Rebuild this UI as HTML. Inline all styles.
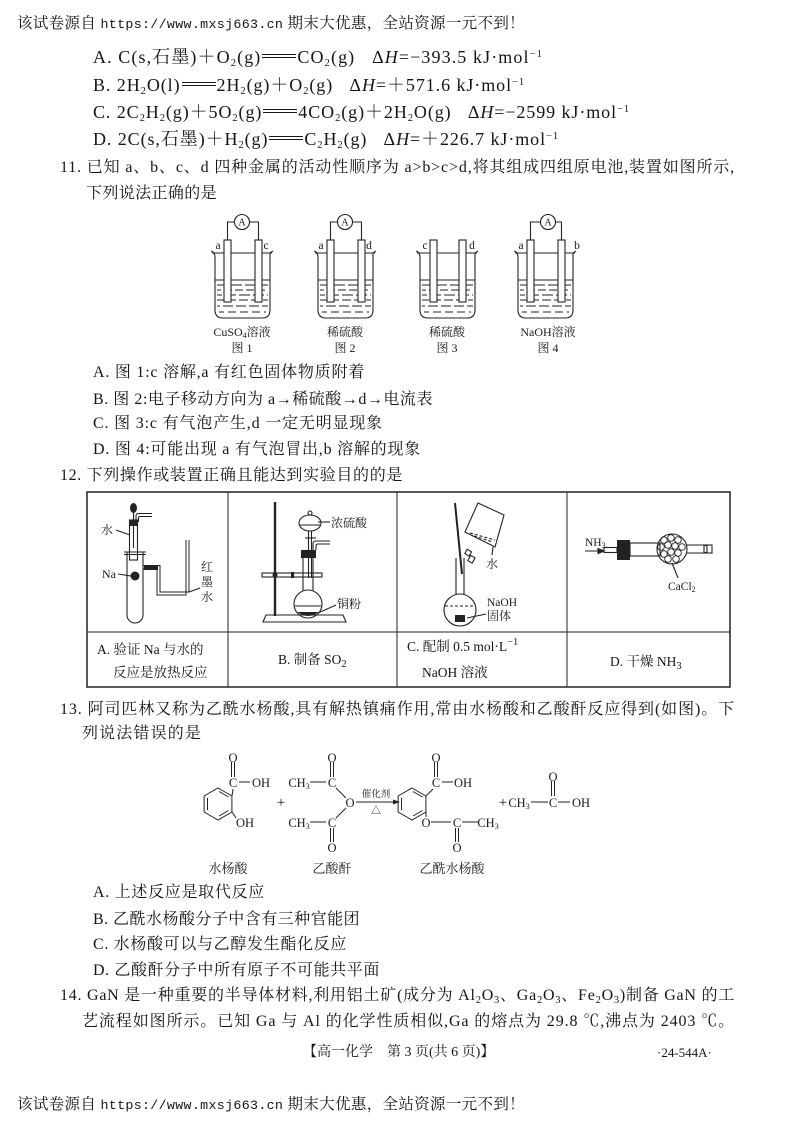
<!DOCTYPE html>
<html><head><meta charset="utf-8">
<style>
body{margin:0;background:#fff;}
#p{position:relative;width:794px;height:1123px;overflow:hidden;background:#fff;color:#151515;font-family:"Liberation Serif","Noto Serif CJK SC",serif;}
.t{position:absolute;white-space:nowrap;font-size:16px;line-height:16px;letter-spacing:0.8px;}
.fm{font-size:18px;letter-spacing:1px;}
.h{position:absolute;white-space:nowrap;font-size:15.5px;line-height:18px;font-family:"Noto Serif CJK SC",serif;}
.m{font-family:"Liberation Mono",monospace;font-size:13.3px;}
.c{position:absolute;white-space:nowrap;font-size:13.5px;line-height:14px;}
sub{font-size:10.5px;vertical-align:-3px;line-height:0}
sup{font-size:10.5px;vertical-align:6px;line-height:0}
.eq{display:inline-block;width:34px;height:2px;border-top:1px solid #1a1a1a;border-bottom:1px solid #1a1a1a;vertical-align:5px;margin:0 1px}
svg{position:absolute;left:0;top:0}
svg text{font-family:"Liberation Serif","Noto Serif CJK SC",serif;fill:#1a1a1a}
</style></head><body><div id="p">

<div class="h fit" style="left:17px;top:13px;--w:508px">该试卷源自 <span class="m">https://www.mxsj663.cn</span> 期末大优惠，全站资源一元不到！</div>

<div class="t fm fit" style="left:93px;top:49px;--w:450px">A. C(s,石墨)＋O<sub>2</sub>(g)<span class="eq"></span>CO<sub>2</sub>(g)&nbsp;&nbsp;&nbsp;Δ<i>H</i>=−393.5 kJ·mol<sup>−1</sup></div>
<div class="t fm fit" style="left:93px;top:77px;--w:432px">B. 2H<sub>2</sub>O(l)<span class="eq"></span>2H<sub>2</sub>(g)＋O<sub>2</sub>(g)&nbsp;&nbsp;&nbsp;Δ<i>H</i>=＋571.6 kJ·mol<sup>−1</sup></div>
<div class="t fm fit" style="left:93px;top:104px;--w:537px">C. 2C<sub>2</sub>H<sub>2</sub>(g)＋5O<sub>2</sub>(g)<span class="eq"></span>4CO<sub>2</sub>(g)＋2H<sub>2</sub>O(g)&nbsp;&nbsp;&nbsp;Δ<i>H</i>=−2599 kJ·mol<sup>−1</sup></div>
<div class="t fm fit" style="left:93px;top:131px;--w:466px">D. 2C(s,石墨)＋H<sub>2</sub>(g)<span class="eq"></span>C<sub>2</sub>H<sub>2</sub>(g)&nbsp;&nbsp;&nbsp;Δ<i>H</i>=＋226.7 kJ·mol<sup>−1</sup></div>

<div class="t fit" style="left:60px;top:160px;--w:675px">11. 已知 a、b、c、d 四种金属的活动性顺序为 a&gt;b&gt;c&gt;d,将其组成四组原电池,装置如图所示,</div>
<div class="t fit" style="left:86px;top:186px;--w:131px">下列说法正确的是</div>

<div class="t fit" style="left:93px;top:365px;--w:272px">A. 图 1:c 溶解,a 有红色固体物质附着</div>
<div class="t fit" style="left:93px;top:392px;--w:340px">B. 图 2:电子移动方向为 a→稀硫酸→d→电流表</div>
<div class="t fit" style="left:93px;top:416px;--w:290px">C. 图 3:c 有气泡产生,d 一定无明显现象</div>
<div class="t fit" style="left:93px;top:442px;--w:328px">D. 图 4:可能出现 a 有气泡冒出,b 溶解的现象</div>

<div class="t fit" style="left:60px;top:468px;--w:343px">12. 下列操作或装置正确且能达到实验目的的是</div>

<div class="c" style="left:97px;top:643px">A. 验证 Na 与水的</div>
<div class="c" style="left:113px;top:666px">反应是放热反应</div>
<div class="c" style="left:278px;top:653px">B. 制备 SO<sub>2</sub></div>
<div class="c" style="left:407px;top:640px">C. 配制 0.5 mol·L<sup>−1</sup></div>
<div class="c" style="left:422px;top:666px">NaOH 溶液</div>
<div class="c" style="left:610px;top:655px">D. 干燥 NH<sub>3</sub></div>

<div class="t fit" style="left:60px;top:702px;--w:675px">13. 阿司匹林又称为乙酰水杨酸,具有解热镇痛作用,常由水杨酸和乙酸酐反应得到(如图)。下</div>
<div class="t fit" style="left:82px;top:726px;--w:120px">列说法错误的是</div>

<div class="t fit" style="left:93px;top:885px;--w:172px">A. 上述反应是取代反应</div>
<div class="t fit" style="left:93px;top:912px;--w:267px">B. 乙酰水杨酸分子中含有三种官能团</div>
<div class="t fit" style="left:93px;top:937px;--w:254px">C. 水杨酸可以与乙醇发生酯化反应</div>
<div class="t fit" style="left:93px;top:963px;--w:287px">D. 乙酸酐分子中所有原子不可能共平面</div>

<div class="t fit" style="left:60px;top:988px;--w:675px">14. GaN 是一种重要的半导体材料,利用铝土矿(成分为 Al<sub>2</sub>O<sub>3</sub>、Ga<sub>2</sub>O<sub>3</sub>、Fe<sub>2</sub>O<sub>3</sub>)制备 GaN 的工</div>
<div class="t fit" style="left:82px;top:1014px;--w:653px">艺流程如图所示。已知 Ga 与 Al 的化学性质相似,Ga 的熔点为 29.8 ℃,沸点为 2403 ℃。</div>

<div class="c" style="left:303px;top:1046px;font-size:14px">【高一化学　第 3 页(共 6 页)】</div>
<div class="c" style="left:657px;top:1046px;font-size:13px">·24-544A·</div>

<div class="h fit" style="left:17px;top:1094px;--w:508px">该试卷源自 <span class="m">https://www.mxsj663.cn</span> 期末大优惠，全站资源一元不到！</div>

<svg width="794" height="1123" viewBox="0 0 794 1123">
<defs>
<g id="bk" fill="none" stroke="#222" stroke-width="1.1">
 <path d="M211,251 Q215,252 215,258 V310 Q215,318 223,318 H262 Q270,318 270,310 V253 L273,251"/>
 <line x1="212" y1="253" x2="272" y2="253"/>
 <line x1="215" y1="280" x2="270" y2="280"/>
 <line x1="217" y1="285" x2="268" y2="285" stroke-dasharray="11 3"/>
 <line x1="217" y1="290" x2="268" y2="290" stroke-dasharray="8 3" stroke-dashoffset="4"/>
 <line x1="217" y1="295" x2="268" y2="295" stroke-dasharray="11 3" stroke-dashoffset="6"/>
 <line x1="217" y1="300" x2="268" y2="300" stroke-dasharray="9 3" stroke-dashoffset="2"/>
 <line x1="217" y1="306" x2="268" y2="306" stroke-dasharray="10 3" stroke-dashoffset="7"/>
 <line x1="219" y1="312" x2="266" y2="312" stroke-dasharray="8 4" stroke-dashoffset="3"/>
</g>
</defs>
<use href="#bk"/>
<use href="#bk" x="103"/>
<use href="#bk" x="205"/>
<use href="#bk" x="303"/>
<g fill="#fff" stroke="#222" stroke-width="1.1">
 <rect x="224" y="240" width="7" height="62"/><rect x="255" y="240" width="7" height="62"/>
 <rect x="327" y="240" width="7" height="62"/><rect x="358" y="240" width="7" height="62"/>
 <rect x="430" y="240" width="7" height="62"/><rect x="459" y="240" width="7" height="62"/>
 <rect x="527" y="240" width="7" height="62"/><rect x="558" y="240" width="7" height="62"/>
 <circle cx="242" cy="222" r="7.5"/><circle cx="345" cy="222" r="7.5"/><circle cx="548" cy="222" r="7.5"/>
</g>
<g fill="none" stroke="#222" stroke-width="1.1">
 <path d="M234.5,222 H227.5 V240 M249.5,222 H258.5 V240"/>
 <path d="M337.5,222 H330.5 V240 M352.5,222 H361.5 V240"/>
 <path d="M540.5,222 H530.5 V240 M555.5,222 H561.5 V240"/>
</g>
<g font-size="10" text-anchor="middle">
 <text x="242" y="225.5">A</text><text x="345" y="225.5">A</text><text x="548" y="225.5">A</text>
</g>
<g font-size="11.5" text-anchor="middle">
 <text x="218" y="249">a</text><text x="266" y="249">c</text>
 <text x="321" y="249">a</text><text x="369" y="249">d</text>
 <text x="425" y="249">c</text><text x="472" y="249">d</text>
 <text x="521" y="249">a</text><text x="577" y="249">b</text>
</g>
<g font-size="12" text-anchor="middle">
 <text x="242" y="336">CuSO<tspan font-size="8" dy="2">4</tspan><tspan dy="-2">溶液</tspan></text>
 <text x="242" y="352">图 1</text>
 <text x="345" y="336">稀硫酸</text>
 <text x="345" y="352">图 2</text>
 <text x="447" y="336">稀硫酸</text>
 <text x="447" y="352">图 3</text>
 <text x="548" y="336">NaOH溶液</text>
 <text x="548" y="352">图 4</text>
</g>

<g fill="none" stroke="#222">
 <rect x="87" y="492" width="643" height="195" stroke-width="1.5"/>
 <line x1="87" y1="632" x2="730" y2="632" stroke-width="1"/>
 <line x1="228" y1="492" x2="228" y2="687" stroke-width="1"/>
 <line x1="397" y1="492" x2="397" y2="687" stroke-width="1"/>
 <line x1="567" y1="492" x2="567" y2="687" stroke-width="1"/>
</g>

<g fill="none" stroke="#222" stroke-width="1.1">
 <path d="M127,552 V615 A8,8 0 0 0 143,615 V552"/>
 <line x1="124" y1="552" x2="146" y2="552"/>
 <line x1="124" y1="554.5" x2="146" y2="554.5"/>
 <rect x="129.5" y="520" width="8" height="40"/>
 <line x1="133.5" y1="512" x2="133.5" y2="548"/>
 <path d="M136,522 V516 Q136,513.5 139,513.5 H152 M138.5,522 V518 Q138.5,516.5 140,516.5 H152"/>
 <path d="M143,565.5 H160 V592 H189 V540 M143,569 H157 V595 H186 V540" stroke-width="1"/>
 <line x1="116" y1="530" x2="130" y2="535"/>
 <line x1="118" y1="574" x2="131" y2="576"/>
 <line x1="200" y1="588" x2="189" y2="592"/>
</g>
<g fill="#222">
 <ellipse cx="133.5" cy="508" rx="3.5" ry="5"/>
 <rect x="129" y="520" width="9" height="6"/>
 <rect x="144" y="565" width="14" height="5"/>
 <circle cx="135" cy="576" r="4.5"/>
</g>
<g font-size="12">
 <text x="101" y="534">水</text>
 <text x="102" y="578">Na</text>
 <text x="201" y="571">红</text>
 <text x="201" y="586">墨</text>
 <text x="201" y="601">水</text>
</g>

<g fill="none" stroke="#222" stroke-width="1.1">
 <line x1="275" y1="502" x2="275" y2="616" stroke-width="2.4"/>
 <path d="M263,622 L266,615 H343 L346,622 Z"/>
 <rect x="262" y="573" width="60" height="4"/>
 <circle cx="308" cy="604" r="14"/>
 <line x1="303" y1="558" x2="303" y2="591"/>
 <line x1="313" y1="558" x2="313" y2="591"/>
 <line x1="295" y1="606" x2="321" y2="606"/>
 <ellipse cx="310" cy="523" rx="11" ry="8"/>
 <line x1="300" y1="525" x2="320" y2="525"/>
 <circle cx="310" cy="513" r="2"/>
 <line x1="308.5" y1="531" x2="308.5" y2="578"/>
 <line x1="311.5" y1="531" x2="311.5" y2="578"/>
 <line x1="305" y1="538" x2="316" y2="538"/>
 <path d="M313,550 V544 Q313,541 316,541 H330 M316,550 V546 Q316,544 318,544 H330"/>
 <line x1="318" y1="522" x2="330" y2="522"/>
 <line x1="318" y1="613" x2="336" y2="605"/>
</g>
<g fill="#222">
 <rect x="301" y="550" width="15" height="8"/>
 <path d="M297,612 Q308,620 319,612 Z"/>
 <circle cx="275" cy="575" r="2.5"/>
 <rect x="291" y="572" width="3" height="6"/>
</g>
<g font-size="12">
 <text x="331" y="527">浓硫酸</text>
 <text x="337" y="608">铜粉</text>
</g>

<g fill="none" stroke="#222" stroke-width="1.1">
 <circle cx="460" cy="610" r="16"/>
 <line x1="456" y1="558" x2="456" y2="595"/>
 <line x1="464" y1="558" x2="464" y2="595"/>
 <line x1="455" y1="503" x2="462" y2="574" stroke-width="2"/>
 <line x1="445" y1="606" x2="475" y2="606" stroke-dasharray="3 2"/>
 <path d="M465,532 L478,503 L504,515 L495,547 Z"/>
 <path d="M470,533 L495,540 M474,536 L493,542" stroke-dasharray="3 2"/>
 <line x1="493" y1="547" x2="492" y2="555"/>
 <rect x="466" y="550" width="5" height="5" transform="rotate(30 468 552)"/>
 <rect x="469" y="556" width="5" height="6" transform="rotate(30 471 559)"/>
 <line x1="467" y1="618" x2="486" y2="614"/>
</g>
<rect x="455" y="615" width="10" height="7" fill="#222"/>
<g font-size="12">
 <text x="486" y="568">水</text>
 <text x="487" y="606" font-size="11.5">NaOH</text>
 <text x="487" y="620">固体</text>
</g>

<g fill="none" stroke="#222" stroke-width="1.1">
 <line x1="585" y1="551" x2="602" y2="551"/>
 <path d="M598,548.5 L604,551 L598,553.5 Z" fill="#222"/>
 <rect x="604" y="547.5" width="13" height="5"/>
 <rect x="630" y="543" width="30" height="13"/>
 <circle cx="672" cy="549" r="15"/>
 <path d="M686,545 H704 L707,546 V552 L704,553 H686"/>
 <rect x="704" y="545" width="8" height="8"/>
 <line x1="672" y1="563" x2="678" y2="578"/>
</g>
<rect x="617" y="540" width="13" height="20" fill="#222"/>
<g fill="none" stroke="#222" stroke-width="0.9">
 <circle cx="664" cy="540" r="3.3"/><circle cx="671" cy="538" r="3.3"/><circle cx="678" cy="540" r="3.3"/>
 <circle cx="661" cy="547" r="3.3"/><circle cx="668" cy="545" r="3.3"/><circle cx="675" cy="546" r="3.3"/><circle cx="682" cy="547" r="3.3"/>
 <circle cx="664" cy="554" r="3.3"/><circle cx="671" cy="552" r="3.3"/><circle cx="678" cy="553" r="3.3"/>
 <circle cx="668" cy="559" r="3.3"/><circle cx="676" cy="559" r="3.3"/>
</g>
<g font-size="11.5">
 <text x="585" y="546">NH<tspan font-size="8" dy="2">3</tspan></text>
 <text x="668" y="590">CaCl<tspan font-size="8" dy="2">2</tspan></text>
</g>

<g fill="none" stroke="#222" stroke-width="1">
 <polygon points="218,788 231.9,796 231.9,812 218,820 204.1,812 204.1,796"/>
 <line x1="219" y1="791.5" x2="228.5" y2="797"/>
 <line x1="228.5" y1="810.5" x2="219" y2="816"/>
 <line x1="207.5" y1="798" x2="207.5" y2="810"/>
 <line x1="232" y1="796" x2="233" y2="789"/>
 <line x1="231.5" y1="762" x2="231.5" y2="777"/>
 <line x1="234.5" y1="762" x2="234.5" y2="777"/>
 <line x1="239" y1="782" x2="250" y2="782"/>
 <line x1="232" y1="812" x2="236" y2="818"/>
 <line x1="330.5" y1="762" x2="330.5" y2="777"/>
 <line x1="333.5" y1="762" x2="333.5" y2="777"/>
 <line x1="310" y1="782" x2="326" y2="782"/>
 <line x1="336" y1="788" x2="346" y2="798"/>
 <line x1="346" y1="808" x2="336" y2="818"/>
 <line x1="310" y1="822" x2="326" y2="822"/>
 <line x1="330.5" y1="828" x2="330.5" y2="842"/>
 <line x1="333.5" y1="828" x2="333.5" y2="842"/>
 <line x1="356" y1="802" x2="395" y2="802"/>
 <polygon points="412,788 425.9,796 425.9,812 412,820 398.1,812 398.1,796"/>
 <line x1="413" y1="791.5" x2="422.5" y2="797"/>
 <line x1="422.5" y1="810.5" x2="413" y2="816"/>
 <line x1="401.5" y1="798" x2="401.5" y2="810"/>
 <line x1="426" y1="796" x2="433" y2="789"/>
 <line x1="434.5" y1="762" x2="434.5" y2="777"/>
 <line x1="437.5" y1="762" x2="437.5" y2="777"/>
 <line x1="442" y1="782" x2="453" y2="782"/>
 <line x1="426" y1="812" x2="426" y2="817"/>
 <line x1="431" y1="822" x2="451" y2="822"/>
 <line x1="462" y1="822" x2="478" y2="822"/>
 <line x1="455.5" y1="828" x2="455.5" y2="842"/>
 <line x1="458.5" y1="828" x2="458.5" y2="842"/>
 <line x1="531" y1="802" x2="548" y2="802"/>
 <line x1="558" y1="802" x2="570" y2="802"/>
 <line x1="551.5" y1="781" x2="551.5" y2="796"/>
 <line x1="554.5" y1="781" x2="554.5" y2="796"/>
</g>
<path d="M393,799.5 L400,802 L393,804.5 Z" fill="#222"/>
<g font-size="12.5" text-anchor="middle">
 <text x="233" y="762">O</text>
 <text x="233" y="787">C</text>
 <text x="261" y="787">OH</text>
 <text x="245" y="827">OH</text>
 <text x="281" y="807" font-size="15">+</text>
 <text x="332" y="762">O</text>
 <text x="299" y="787">CH<tspan font-size="8" dy="2">3</tspan></text>
 <text x="332" y="787">C</text>
 <text x="350" y="807">O</text>
 <text x="299" y="827">CH<tspan font-size="8" dy="2">3</tspan></text>
 <text x="332" y="827">C</text>
 <text x="332" y="852">O</text>
 <text x="376" y="797" font-size="9.5">催化剂</text>
 <text x="376" y="814" font-size="10">△</text>
 <text x="436" y="762">O</text>
 <text x="436" y="787">C</text>
 <text x="463" y="787">OH</text>
 <text x="426" y="827">O</text>
 <text x="457" y="827">C</text>
 <text x="488" y="827">CH<tspan font-size="8" dy="2">3</tspan></text>
 <text x="457" y="852">O</text>
 <text x="503" y="807" font-size="15">+</text>
 <text x="519" y="807">CH<tspan font-size="8" dy="2">3</tspan></text>
 <text x="553" y="807">C</text>
 <text x="581" y="807">OH</text>
 <text x="553" y="781">O</text>
</g>
<g font-size="13" text-anchor="middle">
 <text x="228" y="873">水杨酸</text>
 <text x="332" y="873">乙酸酐</text>
 <text x="452" y="873">乙酰水杨酸</text>
</g>
</svg>
</div>
<script>
(function(){
  var els=document.querySelectorAll('.fit');
  for(var i=0;i<els.length;i++){
    var e=els[i];
    var w=parseFloat(e.style.getPropertyValue('--w'));
    if(!w) continue;
    var cur=e.getBoundingClientRect().width;
    var n=e.textContent.length;
    if(!n) continue;
    var ls=parseFloat(getComputedStyle(e).letterSpacing)||0;
    e.style.letterSpacing=(ls+(w-cur)/n)+'px';
  }
})();
</script>
</body></html>
